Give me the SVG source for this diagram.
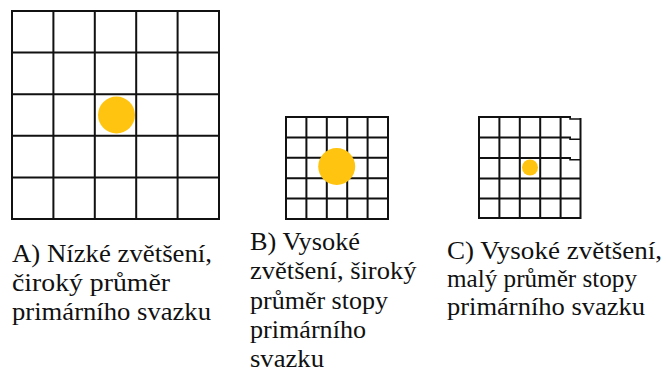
<svg xmlns="http://www.w3.org/2000/svg" width="666" height="372" viewBox="0 0 666 372">
  <style>
    .grid { fill: none; stroke: #111; stroke-width: 2; stroke-linecap: square; }
    .thin { fill: none; stroke: #111; stroke-width: 1.5; }
    .spot { fill: #FFC40F; }
    .label { font-size: 25px; fill: #111; }
  </style>
  <rect width="666" height="372" fill="#ffffff"/>

  <!-- A: low magnification, wide beam spot -->
  <g id="panel-a">
    <path class="grid" d="M12 11V219M53.4 11V219M94.8 11V219M136.2 11V219M177.6 11V219M219 11V219
                          M12 11H219M12 52.6H219M12 94.2H219M12 135.8H219M12 177.4H219M12 219H219"/>
    <circle class="spot" cx="116.5" cy="115" r="18.5"/>
    <text class="label" font-family="Liberation Serif, Times New Roman, serif">
      <tspan x="12" y="261.5" textLength="200" lengthAdjust="spacingAndGlyphs">A) Nízké zvětšení,</tspan>
      <tspan x="12" y="290.5" textLength="158" lengthAdjust="spacingAndGlyphs">čiroký průměr</tspan>
      <tspan x="12" y="319.5" textLength="199" lengthAdjust="spacingAndGlyphs">primárního svazku</tspan>
    </text>
  </g>

  <!-- B: high magnification, wide beam spot -->
  <g id="panel-b">
    <path class="grid" d="M286 117V219M306.4 117V219M326.8 117V219M347.2 117V219M367.6 117V219M388 117V219
                          M286 117H388M286 137.4H388M286 157.8H388M286 178.2H388M286 198.6H388M286 219H388"/>
    <circle class="spot" cx="336.7" cy="166.5" r="18.5"/>
    <text class="label" font-family="Liberation Serif, Times New Roman, serif">
      <tspan x="250" y="249.5" textLength="110" lengthAdjust="spacingAndGlyphs">B) Vysoké</tspan>
      <tspan x="250" y="279" textLength="166.5" lengthAdjust="spacingAndGlyphs">zvětšení, široký</tspan>
      <tspan x="250" y="308.5" textLength="138" lengthAdjust="spacingAndGlyphs">průměr stopy</tspan>
      <tspan x="250" y="338" textLength="116" lengthAdjust="spacingAndGlyphs">primárního</tspan>
      <tspan x="250" y="367" textLength="74" lengthAdjust="spacingAndGlyphs">svazku</tspan>
    </text>
  </g>

  <!-- C: high magnification, small beam spot -->
  <g id="panel-c">
    <path class="grid" d="M479 117V218M499.4 117V218M519.8 117V218M540.2 117V218M560.6 117V218M580.5 119V218
                          M479 117H570M479 137.6H570M479 158H570M479 178.4H580.5M479 198.6H580.5M479 218H580.5"/>
    <!-- right column rows sit slightly lower -->
    <path class="thin" d="M570 117V119H580.5M570 137.6V139.3H580.5M570 158V159.8H580.5"/>
    <circle class="spot" cx="530" cy="167.5" r="8"/>
    <text class="label" font-family="Liberation Serif, Times New Roman, serif">
      <tspan x="447" y="258.5" textLength="215" lengthAdjust="spacingAndGlyphs">C) Vysoké zvětšení,</tspan>
      <tspan x="447" y="286.5" textLength="190" lengthAdjust="spacingAndGlyphs">malý průměr stopy</tspan>
      <tspan x="447" y="314.5" textLength="198" lengthAdjust="spacingAndGlyphs">primárního svazku</tspan>
    </text>
  </g>
</svg>
